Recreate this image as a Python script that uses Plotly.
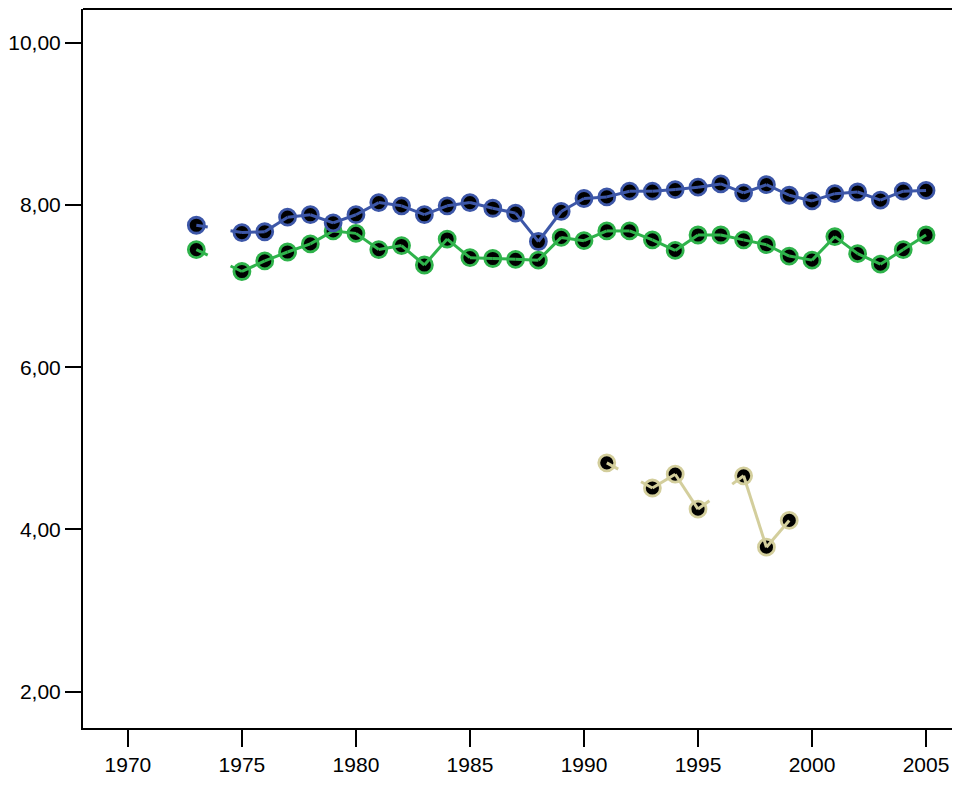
import plotly.graph_objects as go

years = list(range(1973, 2006))

blue_vals = [7.75, None, 7.66, 7.67, 7.85, 7.88, 7.78, 7.88, 8.03, 7.99, 7.88, 7.99,
             8.03, 7.96, 7.90, 7.55, 7.92, 8.08, 8.10, 8.17, 8.17, 8.19, 8.22, 8.26,
             8.15, 8.25, 8.12, 8.05, 8.14, 8.16, 8.06, 8.17, 8.18]
green_vals = [7.45, None, 7.18, 7.31, 7.42, 7.52, 7.68, 7.65, 7.45, 7.50, 7.26, 7.58,
              7.35, 7.34, 7.33, 7.32, 7.60, 7.56, 7.68, 7.68, 7.57, 7.44, 7.63, 7.63,
              7.57, 7.51, 7.37, 7.32, 7.61, 7.40, 7.27, 7.45, 7.63]
yellow_vals = [None] * 18 + [4.82, None, 4.51, 4.68, 4.25, None, 4.66, 3.78, 4.11] + [None] * 6

y_tickvals = [2, 4, 6, 8, 10]
x_tickvals = [1970, 1975, 1980, 1985, 1990, 1995, 2000, 2005]

series = [
    ("yellow", yellow_vals, "#D3CE9C"),
    ("green", green_vals, "#2FB34B"),
    ("blue", blue_vals, "#3D57A8"),
]

STUB = 0.5  # years of line shown toward the next valid point across a gap


def line_path(xs, vs):
    pts = [(x, v) for x, v in zip(xs, vs) if v is not None]
    lx, ly = [], []
    for (x0, v0), (x1, v1) in zip(pts[:-1], pts[1:]):
        if x1 - x0 == 1:
            lx += [x0, x1, None]
            ly += [v0, v1, None]
        else:
            f = STUB / (x1 - x0)
            lx += [x0, x0 + STUB, None, x1 - STUB, x1, None]
            ly += [v0, v0 + f * (v1 - v0), None, v1 - f * (v1 - v0), v1, None]
    return lx, ly


fig = go.Figure()
for name, vals, col in series:
    mx = [x for x, v in zip(years, vals) if v is not None]
    my = [v for v in vals if v is not None]
    fig.add_trace(go.Scatter(x=mx, y=my, mode="markers", name=name,
                             marker=dict(size=16, color="black",
                                         line=dict(color=col, width=2.8)),
                             showlegend=False, hoverinfo="skip"))
    lx, ly = line_path(years, vals)
    fig.add_trace(go.Scatter(x=lx, y=ly, mode="lines", name=name,
                             line=dict(color=col, width=3),
                             showlegend=False, hoverinfo="skip"))

axis_font = dict(family="Liberation Sans, Arial, sans-serif", size=21, color="black")

# the page body has an 8px margin; the plot area runs past the right edge like the reference
fig.update_layout(
    width=960, height=768,
    margin=dict(l=74, r=0, t=1, b=44),
    paper_bgcolor="white", plot_bgcolor="white",
    separators=",.",
    font=axis_font,
    shapes=[dict(type="line", xref="paper", yref="paper", x0=0, x1=1, y0=1, y1=1,
                 line=dict(color="black", width=2))],
)
fig.update_xaxes(range=[1968.03, 2006.84], tickvals=x_tickvals, ticks="outside",
                 ticklen=17, tickwidth=2, tickcolor="black",
                 showline=True, linewidth=2, linecolor="black",
                 showgrid=False, zeroline=False, tickfont=axis_font)
fig.update_yaxes(range=[1.55, 10.417], tickvals=y_tickvals, tickformat=".2f",
                 ticks="outside", ticklen=16, tickwidth=2, tickcolor="black",
                 showline=True, linewidth=2, linecolor="black",
                 showgrid=False, zeroline=False, tickfont=axis_font)

fig.write_html("out.html", config={"displayModeBar": False})
